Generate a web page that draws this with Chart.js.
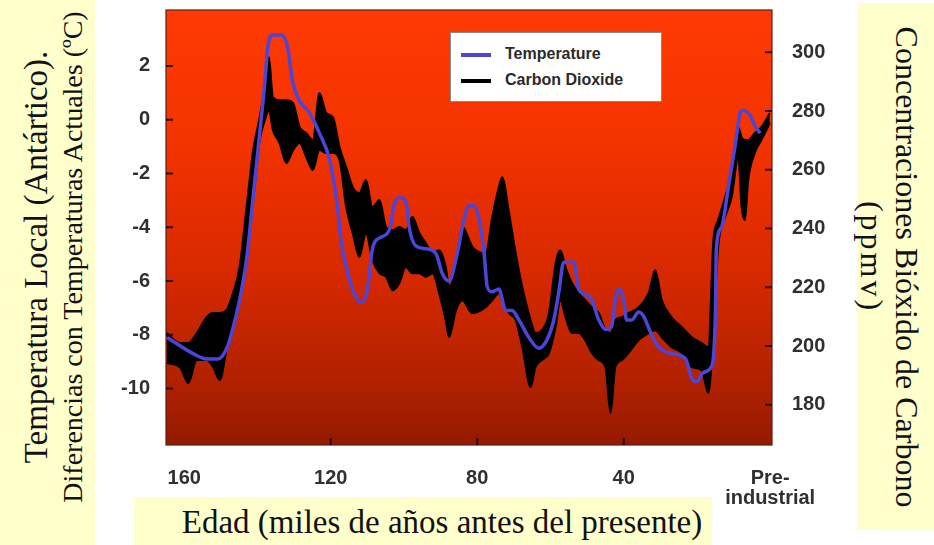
<!DOCTYPE html>
<html lang="es">
<head>
    <meta charset="UTF-8">
    <meta name="viewport" content="width=device-width, initial-scale=1.0">
    <title>Temperatura y Dióxido de Carbono</title>
    <script src="https://cdn.jsdelivr.net/npm/chart.js"></script>
    <style>
        body {
            margin: 0;
            background: #ffffff;
        }
        .page {
            position: relative;
            width: 934px;
            height: 545px;
            overflow: hidden;
            font-family: "Liberation Serif", "Times New Roman", serif;
            color: #111;
        }
        .box {
            position: absolute;
            background: #ffffcc;
        }
        .label {
            position: absolute;
            white-space: nowrap;
            line-height: 1;
        }
        #vostokChart {
            position: absolute;
            left: 0;
            top: 0;
        }
        .legend {
            position: absolute;
            left: 450px;
            top: 32px;
            width: 210px;
            height: 68px;
            background: #ffffff;
            border: 1px solid #8a8a8a;
            font-family: "Liberation Sans", Arial, sans-serif;
            font-weight: bold;
            font-size: 16px;
            color: #2a2a2a;
        }
        .legend .item {
            position: absolute;
            left: 10px;
            height: 20px;
            line-height: 20px;
        }
        .legend .swatch {
            display: inline-block;
            width: 30px;
            height: 4px;
            vertical-align: middle;
            margin-right: 14px;
        }
    </style>
</head>
<body>
<div class="page">
    <!-- fondos amarillos de los títulos -->
    <div class="box" style="left:0; top:0; width:95px; height:545px;"></div>
    <div class="box" style="left:857px; top:3px; width:77px; height:527px;"></div>
    <div class="box" style="left:134px; top:497px; width:578px; height:48px;"></div>

    <div class="label" style="left:36px; top:257px; font-size:33px; transform:translate(-50%,-50%) rotate(-90deg);">Temperatura Local (Antártico).</div>
    <div class="label" style="left:73px; top:257px; font-size:28px; transform:translate(-50%,-50%) rotate(-90deg);">Diferencias con Temperaturas Actuales (ºC)</div>
    <div class="label" style="left:907px; top:267px; font-size:32px; transform:translate(-50%,-50%) rotate(90deg);">Concentraciones Bióxido de Carbono</div>
    <div class="label" style="left:872px; top:257px; font-size:32px; letter-spacing:3px; transform:translate(-50%,-50%) rotate(90deg);">(ppmv)</div>
    <div class="label" style="left:442px; top:522px; font-size:33px; transform:translate(-50%,-50%);">Edad (miles de años antes del presente)</div>

    <canvas id="vostokChart" width="934" height="545"></canvas>

    <div class="legend">
        <div class="item" style="top:11px;"><span class="swatch" style="background:#4b45d8;"></span>Temperature</div>
        <div class="item" style="top:37px;"><span class="swatch" style="background:#000;"></span>Carbon Dioxide</div>
    </div>
</div>

<script>
    // ticks de los ejes
    const ageTicks = [160, 120, 80, 40, 0];
    const tempTicks = [-10, -8, -6, -4, -2, 0, 2];
    const co2Ticks = [180, 200, 220, 240, 260, 280, 300];

    // temperatura (miles de años, ºC)
    const tempAge = [
        164.7, 157.6, 153.8, 150.8, 148.4, 146.8, 144.9, 143.0, 141.3, 139.4,
        138.0, 137.2, 135.9, 133.4, 131.8, 130.4, 128.5, 125.8, 123.1, 120.3,
        118.4, 117.1, 115.7, 114.1, 111.6, 110.0, 108.6, 106.7, 104.0, 102.6,
        101.3, 99.4, 98.6, 96.7, 93.9, 91.2, 89.6, 87.7, 85.5, 83.6,
        82.2, 80.9, 79.5, 78.1, 77.3, 76.0, 74.1, 72.2, 70.5, 68.6,
        65.9, 63.2, 61.0, 59.1, 57.7, 56.4, 53.6, 52.3, 50.4, 48.7,
        46.8, 44.9, 43.3, 42.2, 41.4, 40.0, 39.2, 37.8, 35.9, 34.6,
        32.7, 30.5, 27.0, 23.1, 21.5, 20.1, 18.2, 16.1, 15.0, 14.7,
        13.3, 11.4, 9.5, 8.2, 7.4, 5.4, 4.1, 2.7
    ];
    const tempValue = [
        -8.1, -8.7, -8.9, -8.9, -8.5, -7.8, -6.7, -5.2, -3.0, -0.5,
        1.4, 2.7, 3.15, 3.15, 2.7, 1.4, 0.7, 0.25, -0.5, -1.5,
        -3.0, -4.6, -5.5, -6.3, -6.8, -6.3, -4.8, -4.4, -4.1, -3.1,
        -2.9, -3.1, -4.0, -4.7, -4.8, -5.0, -5.7, -6.0, -5.0, -3.7,
        -3.2, -3.2, -3.7, -5.0, -6.2, -6.4, -6.3, -7.1, -7.1, -7.45,
        -8.1, -8.5, -8.2, -7.45, -6.4, -5.3, -5.3, -6.3, -6.5, -6.7,
        -7.45, -7.8, -7.7, -6.6, -6.3, -6.7, -7.45, -7.45, -7.15, -7.3,
        -7.9, -8.45, -8.7, -8.9, -9.6, -9.75, -9.4, -9.2, -7.45, -4.8,
        -4.0, -2.5, -0.9, 0.25, 0.35, 0.15, -0.25, -0.5
    ];

    // CO2, banda entre valor alto y bajo (ppmv)
    const co2Age = [
        164.8, 161.2, 158.9, 156.6, 153.9, 152.1, 150.3, 148.5, 146.7, 144.9,
        143.0, 141.2, 139.4, 138.0, 136.9, 135.8, 134.0, 132.1, 130.3, 128.5,
        126.7, 124.9, 123.1, 121.2, 119.4, 117.6, 115.8, 114.0, 112.2, 110.4,
        108.6, 106.7, 104.9, 103.1, 101.3, 99.5, 97.7, 95.8, 94.0, 92.2,
        90.4, 88.6, 87.7, 85.8, 84.0, 82.2, 81.3, 77.7, 75.9, 74.1,
        73.2, 71.3, 69.5, 67.7, 65.4, 64.1, 62.3, 60.4, 58.6, 57.3,
        55.9, 54.1, 52.3, 50.5, 48.7, 46.8, 45.0, 43.6, 42.3, 40.5,
        38.7, 35.9, 33.2, 31.4, 29.6, 26.9, 24.1, 21.4, 18.7, 16.9,
        15.5, 14.2, 12.3, 10.5, 8.7, 7.8, 6.9, 6.0, 4.2, 2.4,
        0.1
    ];
    const co2High = [
        204.4, 201.0, 201.0, 204.4, 209.8, 211.2, 211.2, 212.2, 218.0, 226.9,
        247.3, 266.7, 277.9, 288.1, 298.3, 284.7, 283.7, 283.7, 282.7, 274.5,
        272.5, 270.1, 286.1, 279.3, 277.9, 267.7, 260.9, 254.1, 252.1, 256.5,
        247.3, 249.7, 240.5, 239.5, 240.5, 239.5, 243.9, 238.4, 235.0, 231.6,
        232.6, 226.9, 220.1, 226.9, 240.5, 236.1, 233.7, 231.6, 243.9, 254.1,
        257.5, 245.2, 231.6, 220.1, 208.8, 204.4, 205.4, 211.2, 228.2, 232.6,
        226.9, 221.4, 218.0, 215.6, 213.2, 211.2, 205.4, 204.4, 208.8, 209.8,
        211.2, 213.2, 218.0, 225.8, 215.6, 209.8, 206.4, 203.0, 201.0, 199.6,
        236.1, 242.9, 250.7, 258.9, 274.5, 271.1, 270.1, 270.1, 272.5, 274.5,
        279.3
    ];
    const co2Low = [
        194.2, 192.8, 187.4, 195.2, 195.2, 192.8, 188.4, 198.6, 208.8, 218.0,
        233.7, 249.7, 270.1, 276.9, 280.3, 273.5, 269.1, 262.3, 266.7, 269.1,
        264.3, 259.9, 266.7, 265.7, 265.7, 263.3, 247.3, 238.4, 230.3, 238.4,
        229.2, 224.8, 223.5, 219.0, 221.4, 226.9, 224.8, 224.8, 223.5, 224.8,
        218.0, 208.8, 203.0, 212.2, 215.6, 212.2, 211.2, 213.2, 215.6, 218.0,
        215.6, 211.2, 208.8, 199.6, 186.0, 192.8, 195.2, 197.6, 206.4, 215.6,
        209.8, 204.4, 204.4, 202.0, 197.6, 195.2, 192.8, 177.2, 192.8, 195.2,
        197.6, 202.0, 204.4, 205.4, 203.0, 199.6, 197.6, 192.8, 191.8, 184.0,
        204.4, 233.7, 243.9, 250.7, 264.3, 247.3, 242.9, 256.5, 265.7, 270.1,
        275.9
    ];

    const toPoints = (xs, ys) => xs.map((x, i) => ({ x: x, y: ys[i] }));

    Chart.defaults.font.family = "'Liberation Sans', Arial, sans-serif";

    const tickFont = { family: "'Liberation Sans', Arial, sans-serif", weight: 'bold', size: 20, lineHeight: 1.0 };

    // tamaño fijo de cada eje, sin el margen extra de las etiquetas
    const fixSize = (w, h) => s => {
        if (w !== null) s.width = w;
        if (h !== null) s.height = h;
        s.paddingTop = 0;
        s.paddingBottom = 0;
        s.paddingLeft = 0;
        s.paddingRight = 0;
    };

    // fondo degradado rojo del área del gráfico
    const plotBackground = {
        id: 'plotBackground',
        beforeDraw(chart) {
            const { ctx, chartArea: a } = chart;
            const g = ctx.createLinearGradient(0, a.top, 0, a.bottom);
            g.addColorStop(0, '#ff3a04');
            g.addColorStop(0.3, '#f43300');
            g.addColorStop(0.6, '#d82900');
            g.addColorStop(0.85, '#b22100');
            g.addColorStop(1, '#941a00');
            ctx.save();
            ctx.fillStyle = g;
            ctx.fillRect(a.left, a.top, a.right - a.left, a.bottom - a.top);
            ctx.strokeStyle = 'rgba(90, 30, 20, 0.8)';
            ctx.lineWidth = 1.5;
            ctx.strokeRect(a.left, a.top, a.right - a.left, a.bottom - a.top);
            ctx.restore();
        }
    };

    // marcas de los ejes hacia dentro
    const innerTicks = {
        id: 'innerTicks',
        afterDatasetsDraw(chart) {
            const { ctx, chartArea: a, scales } = chart;
            ctx.save();
            ctx.strokeStyle = '#2a0800';
            ctx.lineWidth = 2;
            ctx.beginPath();
            tempTicks.forEach(v => {
                const y = scales.y.getPixelForValue(v);
                ctx.moveTo(a.left, y);
                ctx.lineTo(a.left + 7, y);
            });
            co2Ticks.forEach(v => {
                const y = scales.co2.getPixelForValue(v);
                ctx.moveTo(a.right - 7, y);
                ctx.lineTo(a.right, y);
            });
            ageTicks.filter(v => v > 0 && v < 160).forEach(v => {
                const x = scales.x.getPixelForValue(v);
                ctx.moveTo(x, a.bottom - 7);
                ctx.lineTo(x, a.bottom);
            });
            ctx.stroke();
            ctx.restore();
        }
    };

    const ctx = document.getElementById('vostokChart').getContext('2d');

    const vostokChart = new Chart(ctx, {
        type: 'line',
        data: {
            datasets: [
                {
                    label: 'Temperature',
                    data: toPoints(tempAge, tempValue),
                    yAxisID: 'y',
                    borderColor: '#4b45d8',
                    borderWidth: 3.5,
                    pointRadius: 0,
                    cubicInterpolationMode: 'monotone',
                    fill: false
                },
                {
                    label: 'Carbon Dioxide',
                    data: toPoints(co2Age, co2High),
                    yAxisID: 'co2',
                    borderColor: '#000000',
                    backgroundColor: '#000000',
                    borderWidth: 2,
                    pointRadius: 0,
                    cubicInterpolationMode: 'monotone',
                    fill: '+1'
                },
                {
                    label: 'CO2 bajo',
                    data: toPoints(co2Age, co2Low),
                    yAxisID: 'co2',
                    borderColor: '#000000',
                    borderWidth: 2,
                    pointRadius: 0,
                    cubicInterpolationMode: 'monotone',
                    fill: false
                }
            ]
        },
        options: {
            responsive: false,
            animation: false,
            layout: { padding: { top: 10, left: 0, right: 0, bottom: 0 } },
            plugins: {
                legend: { display: false },
                tooltip: { enabled: false }
            },
            scales: {
                x: {
                    type: 'linear',
                    reverse: true,
                    min: -0.5,
                    max: 165,
                    afterBuildTicks: s => { s.ticks = ageTicks.map(v => ({ value: v })); },
                    afterFit: fixSize(null, 100),
                    grid: { display: false, drawTicks: false },
                    border: { display: false },
                    ticks: {
                        padding: 23,
                        maxRotation: 0,
                        autoSkip: false,
                        color: '#303030',
                        font: tickFont,
                        callback: v => v === 0 ? ['Pre-', 'industrial'] : String(v)
                    }
                },
                y: {
                    position: 'left',
                    min: -12.1,
                    max: 4.08,
                    afterBuildTicks: s => { s.ticks = tempTicks.map(v => ({ value: v })); },
                    afterFit: fixSize(166, null),
                    grid: { display: false, drawTicks: false },
                    border: { display: false },
                    ticks: { padding: 16, color: '#303030', font: tickFont }
                },
                co2: {
                    position: 'right',
                    min: 166.3,
                    max: 314.4,
                    afterBuildTicks: s => { s.ticks = co2Ticks.map(v => ({ value: v })); },
                    afterFit: fixSize(162, null),
                    grid: { display: false, drawTicks: false },
                    border: { display: false },
                    ticks: { padding: 20, color: '#303030', font: tickFont }
                }
            }
        },
        plugins: [plotBackground, innerTicks]
    });
</script>
</body>
</html>
